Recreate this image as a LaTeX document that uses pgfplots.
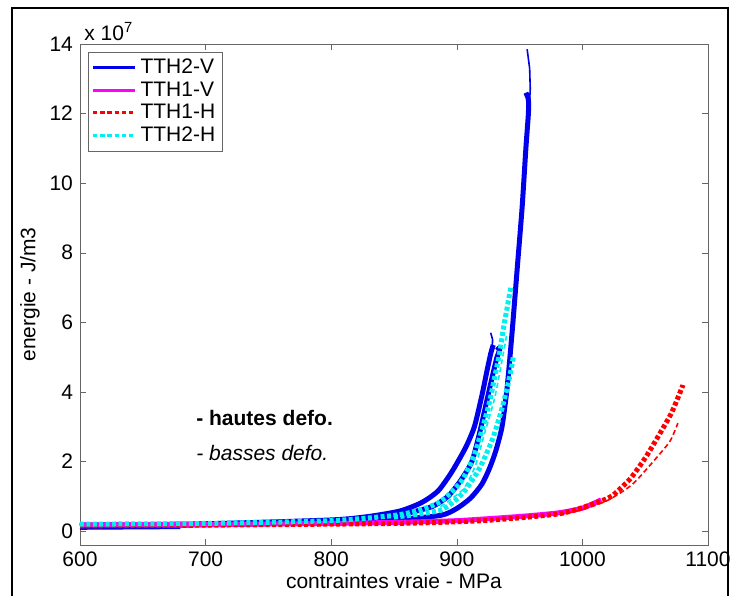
\documentclass[border=0pt]{standalone}
\usepackage{pgfplots}
\pgfplotsset{compat=1.18}
\usepackage{fontspec}
\setmainfont{Liberation Sans}
\definecolor{mblue}{RGB}{0,0,235}
\definecolor{mmag}{RGB}{255,0,255}
\definecolor{mred}{RGB}{255,0,0}
\definecolor{mcyan}{RGB}{0,240,240}
\begin{document}
\begin{tikzpicture}
\begin{axis}[
  scale only axis, width=314pt, height=250.5pt,
  xmin=600, xmax=1100, ymin=-0.4, ymax=14,
  xtick={600,700,...,1100}, ytick={0,2,...,14},
  tick align=inside, major tick length=3pt,
  axis line style={black!60}, tick style={black!60},
  font=\fontsize{10.5}{12}\selectfont,
  /pgf/number format/assume math mode=true,
  /pgf/number format/1000 sep={},
  xlabel={contraintes vraie - MPa}, ylabel={energie - J/m3},
  xlabel style={yshift=3.5pt}, ylabel style={yshift=-2pt},
  legend cell align=left,
  legend style={at={(rel axis cs:0.013,0.985)}, anchor=north west, draw=black!60,
    font=\fontsize{10.5}{12}\selectfont, inner sep=1.5pt, row sep=-1.5pt},
  legend image code/.code={\draw[#1] (0pt,0pt) -- (21pt,0pt);},
]
\addlegendimage{mblue, line width=1.5pt}
\addlegendentry{TTH2-V}
\addlegendimage{mmag, line width=1.5pt}
\addlegendentry{TTH1-V}
\addlegendimage{mred, line width=1.5pt, dash pattern=on 2.2pt off 1.4pt}
\addlegendentry{TTH1-H}
\addlegendimage{mcyan, line width=1.5pt, dash pattern=on 2.2pt off 1.4pt}
\addlegendentry{TTH2-H}
% thin blue baseline (basses defo)
\addplot[forget plot, mblue, line width=0.8pt] coordinates {(600,0.06) (640,0.07) (680,0.08)};
% blue thick right (hautes defo)
\addplot[forget plot, mblue, line width=2.5pt, smooth, tension=0.4] coordinates {
(600,0.15) (700,0.18) (800,0.25) (850,0.33) (887,0.45) (900,0.65) (911,0.95) (920,1.35)
(926,1.8) (931,2.3) (936,3.0) (940,4.1) (944,5.7) (948,7.5) (952,9.3) (955,11.0)
(957,12.0) (957,12.4) (955,12.6)};
\addplot[forget plot, mblue, line width=0.8pt] coordinates {
(954,10.5) (957,11.8) (958.5,12.7) (958,13.3) (956,13.85)};
% blue thick middle
\addplot[forget plot, mblue, line width=2.5pt, smooth, tension=0.4] coordinates {
(600,0.16) (700,0.2) (800,0.28) (830,0.36) (855,0.47) (880,0.7) (893,1.0) (903,1.45) (912,2.0)
(918,2.8) (923,3.6) (928,4.4) (932,5.0) (934,5.2) (932,5.3)};
% blue thick left
\addplot[forget plot, mblue, line width=2.5pt, smooth, tension=0.4] coordinates {
(600,0.17) (700,0.21) (800,0.32) (830,0.42) (855,0.58) (872,0.82) (885,1.15) (896,1.7) (907,2.4) (914,3.0)
(920,3.9) (924,4.6) (927,5.1) (929,5.35)};
\addplot[forget plot, mblue, line width=0.8pt] coordinates {(928,5.1) (928.5,5.5) (927,5.7)};
% magenta TTH1-V
\addplot[forget plot, mmag, line width=2.5pt, smooth, tension=0.4] coordinates {
(600,0.18) (700,0.19) (800,0.22) (850,0.25) (900,0.3) (950,0.42) (980,0.52) (1000,0.66) (1015,0.9)};
% red TTH1-H
\addplot[forget plot, mred, line width=0.8pt, dash pattern=on 2.5pt off 1.5pt, smooth, tension=0.4] coordinates {
(982,0.48) (1000,0.62) (1020,0.88) (1040,1.35) (1060,2.15) (1070,2.6) (1076,3.1)};
\addplot[forget plot, mred, line width=2.5pt, dash pattern=on 2pt off 1.2pt, smooth, tension=0.4] coordinates {
(600,0.15) (700,0.17) (800,0.2) (850,0.22) (887,0.25) (920,0.3) (950,0.38) (982,0.5)
(998,0.65) (1016,0.88) (1024,1.02) (1038,1.5) (1050,2.1) (1060,2.7) (1071,3.4) (1079,4.1) (1080,4.2)};
% cyan TTH2-H
\addplot[forget plot, mcyan, line width=2.5pt, dash pattern=on 2pt off 1.2pt, smooth, tension=0.4] coordinates {
(600,0.2) (700,0.22) (800,0.3) (850,0.45) (870,0.6) (887,0.85) (903,1.4) (913,2.1) (920,2.9) (926,3.7)
(930,4.4) (934,5.1) (937,5.8) (940,6.4) (942,6.8) (943,7.0)};
\addplot[forget plot, mcyan, line width=2.5pt, dash pattern=on 2pt off 1.2pt, smooth, tension=0.4] coordinates {
(850,0.4) (887,0.6) (905,1.1) (918,1.8) (928,2.6) (935,3.4) (940,4.1) (943,4.6) (945,5.0)};
\addplot[forget plot, mcyan, line width=0.8pt, dash pattern=on 2.5pt off 1.5pt, smooth, tension=0.4] coordinates {
(887,0.7) (905,1.2) (915,1.9) (922,2.8) (930,3.8) (936,4.9) (940,5.7)};
% annotations
\node[anchor=west, font=\fontsize{10.5}{12}\selectfont\bfseries] at (axis cs:687,3.25) {- hautes defo.};
\node[anchor=west, font=\fontsize{10.5}{12}\selectfont\itshape] at (axis cs:687,2.25) {- basses defo.};
\end{axis}
\node[anchor=south west, inner sep=0pt, font=\fontsize{10.5}{12}\selectfont] at ([shift={(2pt,1.5pt)}]current axis.north west) {x 10\textsuperscript{7}};
\pgfresetboundingbox
\path[use as bounding box] ([shift={(-40pt,-25pt)}]current axis.south west) rectangle ([shift={(12.5pt,22pt)}]current axis.north east);
\draw[black, line width=1pt] ([shift={(-34pt,-30pt)}]current axis.south west) |- ([shift={(10pt,18pt)}]current axis.north east) -- ([shift={(10pt,-30pt)}]current axis.south east);
\end{tikzpicture}
\end{document}
